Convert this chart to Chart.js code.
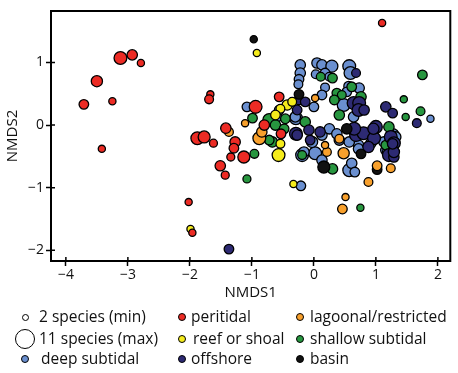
<!DOCTYPE html>
<html>
<head>
<meta charset="utf-8">
<script src="https://cdn.jsdelivr.net/npm/chart.js@4.4.1/dist/chart.umd.min.js"></script>
<style>
  body { margin: 0; background: #fff; }
  #wrap { position: relative; width: 458px; height: 373px; font-family: "Open Sans", sans-serif; }
  #chart { position: absolute; left: 0; top: 0; }
  .dot { position: absolute; border: 1.2px solid #000; border-radius: 50%; box-sizing: border-box; }
  .lbl { position: absolute; font-size: 15.5px; line-height: 18px; color: #111; white-space: nowrap; }
</style>
</head>
<body>
<div id="wrap">
  <canvas id="chart" width="458" height="373"></canvas>
  <div id="legend"></div>
</div>
<script>
// --- data: [NMDS1, NMDS2, species count] per environment ---
const peritidal = [
  [1.10, 1.63, 2], [-3.12, 1.07, 9], [-2.93, 1.12, 6], [-2.79, 0.99, 2], [-3.50, 0.70, 7],
  [-3.71, 0.33, 5], [-3.25, 0.38, 2], [-1.67, 0.49, 2], [-1.69, 0.41, 4], [-3.42, -0.38, 2],
  [-2.02, -1.23, 2], [-1.96, -1.72, 2], [-0.53, -0.14, 5], [-0.56, 0.45, 5], [-0.94, 0.29, 9],
  [-1.88, -0.21, 9], [-1.77, -0.19, 8], [-1.62, -0.29, 3], [-1.42, -0.05, 6], [-1.27, -0.27, 6],
  [-1.29, -0.37, 5], [-1.34, -0.51, 3], [-1.13, -0.51, 8], [-1.51, -0.65, 6], [-1.43, -0.80, 3],
  [-0.80, 0.00, 6]
];
const reefShoal = [
  [-0.92, 1.15, 2], [-1.99, -1.66, 2], [-0.33, -0.94, 2], [-0.57, -0.48, 9], [-0.54, -0.30, 4],
  [-0.43, 0.32, 6], [-0.35, 0.37, 4], [-0.54, 0.26, 4], [-0.62, 0.16, 5]
];
const lagoonal = [
  [0.51, -1.15, 2], [0.46, -1.34, 5], [0.88, -0.91, 4], [1.24, -0.69, 4], [1.02, -0.65, 5],
  [-0.88, -0.21, 9], [-0.84, -0.11, 6], [0.21, -0.43, 4], [0.48, -0.45, 7], [0.18, -0.32, 2],
  [0.41, -0.22, 4], [-1.11, 0.03, 2], [-1.37, -0.11, 4], [0.02, 0.43, 2]
];
const shallowSub = [
  [1.75, 0.80, 5], [1.45, 0.41, 2], [1.72, 0.22, 4], [1.48, 0.13, 2], [0.75, -1.32, 2],
  [-0.96, -0.46, 4], [-1.08, -0.86, 3], [0.30, -0.70, 6], [-0.19, -0.48, 4], [-0.67, -0.27, 6],
  [-0.99, 0.11, 5], [-0.72, 0.08, 9], [0.30, 0.75, 5], [0.11, 0.77, 4], [0.61, 0.61, 5],
  [0.37, 0.51, 5], [0.45, 0.48, 4], [0.33, 0.40, 5], [-0.14, 0.05, 6], [-0.46, 0.10, 5],
  [0.76, 0.45, 6], [1.21, -0.03, 6], [0.41, 0.16, 6], [-0.62, 0.00, 6], [-0.48, -0.06, 5],
  [1.16, -0.32, 5], [-0.72, -0.24, 5]
];
const deepSub = [
  [0.05, 0.99, 6], [0.13, 0.96, 6], [0.29, 0.94, 8], [0.57, 0.94, 9], [0.59, 0.83, 9],
  [0.18, 0.83, 5], [0.03, 0.81, 4], [0.25, 0.77, 4], [-0.22, 0.96, 6], [-0.22, 0.83, 6],
  [-0.24, 0.73, 5], [-0.25, 0.65, 4], [0.56, 0.62, 5], [0.53, 0.53, 5], [0.18, 0.60, 4],
  [0.13, 0.48, 5], [0.00, 0.29, 5], [0.48, 0.32, 9], [-0.29, 0.11, 9], [-0.59, 0.13, 5],
  [0.73, 0.59, 6], [-1.08, 0.29, 5], [-0.56, 0.24, 5], [-0.30, 0.13, 6], [0.64, 0.13, 6],
  [-0.21, -0.97, 5], [1.88, 0.10, 2], [0.57, -0.72, 9], [-0.19, -0.48, 9], [0.02, -0.45, 9],
  [0.13, -0.56, 6], [0.61, -0.61, 6], [-0.16, -0.43, 6], [0.41, -0.24, 6], [1.16, -0.40, 6],
  [1.27, -0.16, 9], [1.32, -0.19, 6], [1.13, -0.27, 6], [1.19, -0.43, 6], [0.72, -0.32, 6],
  [0.92, -0.29, 6], [0.66, -0.75, 5], [-0.03, -0.27, 7], [0.13, -0.16, 6], [0.25, -0.06, 6],
  [0.37, -0.14, 6], [0.57, -0.27, 6], [0.72, -0.38, 6], [1.24, -0.16, 6]
];
const offshore = [
  [-1.37, -1.98, 5], [1.16, 0.29, 6], [1.27, 0.19, 5], [1.66, 0.03, 4], [-0.29, -0.14, 9],
  [-0.06, -0.24, 5], [0.68, -0.16, 9], [0.80, -0.13, 9], [0.97, -0.21, 9], [1.24, -0.19, 9],
  [1.29, -0.29, 9], [1.21, -0.48, 9], [1.29, -0.51, 6], [-0.24, 0.40, 5], [-0.14, 0.37, 5],
  [0.64, 0.35, 9], [0.68, 0.83, 4], [0.73, 0.35, 9], [0.72, 0.24, 9], [0.81, 0.24, 6],
  [1.00, -0.03, 9], [-0.08, -0.08, 6], [0.10, -0.11, 6], [-0.27, 0.24, 5], [0.65, -0.06, 9],
  [0.96, -0.06, 7], [0.88, -0.35, 7], [1.29, -0.43, 7], [1.27, -0.30, 6], [-0.27, -0.16, 6]
];
const basin = [
  [-0.97, 1.37, 2], [-0.24, 0.49, 5], [0.16, -0.67, 8], [1.02, -0.71, 5], [0.53, -0.06, 6],
  [0.76, -0.46, 5]
];

const xTicks = [-4, -3, -2, -1, 0, 1, 2];
const yTicks = [-2, -1, 0, 1];

// --- colours ---
const colors = {
  peritidal: "#ec2b24",
  reef: "#f5ec1c",
  lagoonal: "#f8a02c",
  shallow: "#27963f",
  deep: "#6a8fcf",
  offshore: "#2d2a73",
  basin: "#111111"
};

// bubble radius from species count
function radius(s) {
  return 3.6 + (s - 2) * 0.4;
}

function makeSet(label, rows, color, order) {
  return {
    label: label,
    data: rows.map(r => ({ x: r[0], y: r[1], r: radius(r[2]) })),
    backgroundColor: color,
    borderColor: "#000",
    borderWidth: 1.3,
    order: order
  };
}

// frame round the plot + ticks that cross into the plot
const framePlugin = {
  id: "frame",
  afterDraw(chart) {
    const { ctx, chartArea: a, scales } = chart;
    ctx.save();
    ctx.strokeStyle = "#000";
    ctx.lineWidth = 2;
    ctx.strokeRect(a.left, a.top, a.right - a.left, a.bottom - a.top);
    ctx.lineWidth = 1.5;
    ctx.beginPath();
    scales.x.ticks.forEach(t => {
      const px = scales.x.getPixelForValue(t.value);
      ctx.moveTo(px, a.bottom);
      ctx.lineTo(px, a.bottom - 4);
    });
    scales.y.ticks.forEach(t => {
      const py = scales.y.getPixelForValue(t.value);
      ctx.moveTo(a.left, py);
      ctx.lineTo(a.left + 4, py);
    });
    ctx.stroke();
    ctx.restore();
  }
};

const minus = v => String(v).replace("-", "\u2212");

new Chart(document.getElementById("chart"), {
  type: "bubble",
  data: {
    datasets: [
      makeSet("peritidal", peritidal, colors.peritidal, 1),
      makeSet("reef or shoal", reefShoal, colors.reef, 2),
      makeSet("lagoonal/restricted", lagoonal, colors.lagoonal, 3),
      makeSet("basin", basin, colors.basin, 4),
      makeSet("offshore", offshore, colors.offshore, 5),
      makeSet("shallow subtidal", shallowSub, colors.shallow, 6),
      makeSet("deep subtidal", deepSub, colors.deep, 7)
    ]
  },
  options: {
    responsive: false,
    animation: false,
    devicePixelRatio: 1,
    events: [],
    layout: { padding: { top: 11, right: 3, left: 0, bottom: 0 } },
    plugins: { legend: { display: false }, tooltip: { enabled: false } },
    scales: {
      x: {
        type: "linear",
        min: -4.24,
        max: 2.2,
        afterBuildTicks: s => { s.ticks = xTicks.map(v => ({ value: v })); },
        afterFit: s => { s.height = 112; },
        border: { display: false },
        grid: { drawOnChartArea: false, drawTicks: true, tickLength: 5, tickColor: "#000", tickWidth: 1.5 },
        ticks: { color: "#111", padding: 1, font: { family: "Open Sans", size: 14 }, callback: v => minus(v) },
        title: { display: true, text: "NMDS1", color: "#111", font: { family: "Open Sans", size: 15 }, padding: { top: 0, bottom: 71 } }
      },
      y: {
        type: "linear",
        min: -2.17,
        max: 1.82,
        afterBuildTicks: s => { s.ticks = yTicks.map(v => ({ value: v })); },
        afterFit: s => { s.width = 51; },
        border: { display: false },
        grid: { drawOnChartArea: false, drawTicks: true, tickLength: 5, tickColor: "#000", tickWidth: 1.5 },
        ticks: { color: "#111", padding: 2, font: { family: "Open Sans", size: 14 }, callback: v => minus(v) },
        title: { display: true, text: "NMDS2", color: "#111", font: { family: "Open Sans", size: 15 }, padding: { top: 4, bottom: 0 } }
      }
    }
  },
  plugins: [framePlugin]
});

// --- legend below the plot (3 columns) ---
const legendItems = [
  { text: "2 species (min)", color: "#fff", r: 3.5, cx: 25, tx: 39, cy: 317 },
  { text: "peritidal", color: colors.peritidal, r: 4, cx: 182, tx: 191, cy: 317 },
  { text: "lagoonal/restricted", color: colors.lagoonal, r: 4, cx: 300, tx: 310, cy: 317 },
  { text: "11 species (max)", color: "#fff", r: 10, cx: 25, tx: 39, cy: 339 },
  { text: "reef or shoal", color: colors.reef, r: 4, cx: 182, tx: 193, cy: 339 },
  { text: "shallow subtidal", color: colors.shallow, r: 4, cx: 300, tx: 310, cy: 339 },
  { text: "deep subtidal", color: colors.deep, r: 4, cx: 25, tx: 41, cy: 359 },
  { text: "offshore", color: colors.offshore, r: 4, cx: 182, tx: 191, cy: 359 },
  { text: "basin", color: colors.basin, r: 4, cx: 300, tx: 310, cy: 359 }
];
const legend = document.getElementById("legend");
legendItems.forEach(it => {
  const d = document.createElement("span");
  d.className = "dot";
  d.style.left = (it.cx - it.r) + "px";
  d.style.top = (it.cy - it.r) + "px";
  d.style.width = d.style.height = (it.r * 2) + "px";
  d.style.background = it.color;
  legend.appendChild(d);
  const l = document.createElement("span");
  l.className = "lbl";
  l.textContent = it.text;
  l.style.left = it.tx + "px";
  l.style.top = (it.cy - 10) + "px";
  legend.appendChild(l);
});
</script>
</body>
</html>
